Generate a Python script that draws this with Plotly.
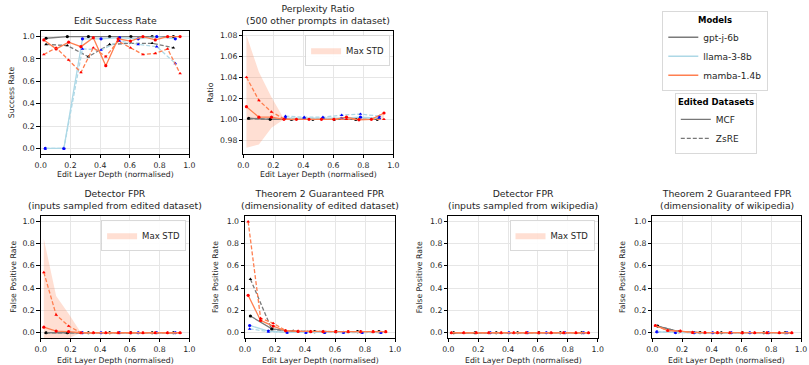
import plotly.graph_objects as go

# ---------------- data ----------------
depth_gptj = [0.036, 0.179, 0.321, 0.464, 0.607, 0.750, 0.893]
depth_llama = [0.031, 0.156, 0.281, 0.406, 0.531, 0.656, 0.781, 0.906]
depth_mamba = [0.021, 0.104, 0.188, 0.271, 0.354, 0.438, 0.521, 0.604, 0.688, 0.771, 0.854, 0.938]

# Edit success rate
succ_gptj_mcf = [0.985, 1.0, 1.0, 1.0, 1.0, 1.0, 1.0]
succ_gptj_zsre = [0.93, 0.92, 0.82, 0.93, 0.94, 0.94, 0.90]
succ_llama_mcf = [0.0, 0.0, 0.98, 0.98, 0.99, 0.98, 1.0, 0.98]
succ_llama_zsre = [0.0, 0.0, 0.89, 0.88, 0.96, 0.93, 0.91, 0.76]
succ_mamba_mcf = [0.97, 0.89, 0.95, 0.91, 0.99, 0.74, 0.98, 0.96, 1.0, 0.97, 1.0, 1.0]
succ_mamba_zsre = [0.84, 0.90, 0.79, 0.68, 0.90, 0.82, 0.96, 0.90, 0.84, 0.85, 0.89, 0.67]

# Perplexity ratio
ppl_gptj_mcf = [1.001, 1.0, 1.0, 1.0, 1.0, 1.0, 1.0]
ppl_gptj_zsre = [1.0005, 1.0, 0.9998, 1.0, 1.0, 0.9998, 1.0]
ppl_llama_mcf = [None, None, 1.001, 1.001, 1.001, 1.001, 1.002, 1.001]
ppl_llama_zsre = [None, None, 1.003, 1.002, 1.002, 1.004, 1.005, 1.003]
ppl_mamba_mcf = [1.012, 1.002, 1.002, 1.0, 1.0, 1.0, 1.0, 1.0, 1.002, 0.9995, 1.0, 1.006]
ppl_mamba_zsre = [1.040, 1.018, 1.007, 1.0005, 1.0, 1.0, 1.0, 1.0, 1.0, 1.0, 1.0, 1.0]
ppl_std_upper = [1.080, 1.045, 1.021, 1.0005, 1.0, 1.0, 1.0, 1.0, 1.002, 1.0, 1.0, 1.006]
ppl_std_lower = [0.973, 0.976, 0.992, 1.0, 1.0, 1.0, 1.0, 1.0, 1.0, 0.9995, 1.0, 1.0]

# Detector FPR (edited dataset)
det_ed_gptj_mcf = [0.0, 0.0, 0.0, 0.0, 0.0, 0.0, 0.0]
det_ed_gptj_zsre = [0.0, 0.0, 0.0, 0.0, 0.0, 0.0, 0.0]
det_ed_llama_mcf = [None, None, 0.0, 0.0, 0.0, 0.0, 0.0, 0.0]
det_ed_llama_zsre = [None, None, 0.0, 0.0, 0.0, 0.0, 0.0, 0.0]
det_ed_mamba_mcf = [0.05, 0.015, 0.01, 0.0, 0.0, 0.0, 0.0, 0.0, 0.0, 0.0, 0.0, 0.0]
det_ed_mamba_zsre = [0.54, 0.16, 0.06, 0.0, 0.0, 0.0, 0.0, 0.0, 0.0, 0.0, 0.0, 0.0]
det_ed_std_upper = [0.84, 0.33, 0.17, 0.0, 0.0, 0.0, 0.0, 0.0, 0.0, 0.0, 0.0, 0.0]
det_ed_std_lower = [-0.24, -0.14, -0.05, 0.0, 0.0, 0.0, 0.0, 0.0, 0.0, 0.0, 0.0, 0.0]

# Theorem 2 guaranteed FPR (edited dataset)
thm_ed_gptj_mcf = [0.15, 0.035, 0.012, 0.01, 0.01, 0.01, 0.01]
thm_ed_gptj_zsre = [0.48, 0.03, 0.015, 0.01, 0.01, 0.01, 0.01]
thm_ed_llama_mcf = [0.065, 0.015, 0.004, 0.003, 0.003, 0.003, 0.003, 0.003]
thm_ed_llama_zsre = [0.035, 0.01, 0.003, 0.002, 0.002, 0.002, 0.002, 0.002]
thm_ed_mamba_mcf = [0.335, 0.11, 0.06, 0.018, 0.012, 0.01, 0.01, 0.01, 0.01, 0.01, 0.01, 0.01]
thm_ed_mamba_zsre = [0.995, 0.13, 0.085, 0.02, 0.015, 0.012, 0.012, 0.01, 0.01, 0.01, 0.01, 0.01]

# Detector FPR (wikipedia)
det_wk_gptj_mcf = [0.0, 0.0, 0.0, 0.0, 0.0, 0.0, 0.0]
det_wk_gptj_zsre = [0.0, 0.0, 0.0, 0.0, 0.0, 0.0, 0.0]
det_wk_llama_mcf = [None, None, 0.0, 0.0, 0.0, 0.0, 0.0, 0.0]
det_wk_llama_zsre = [None, None, 0.0, 0.0, 0.0, 0.0, 0.0, 0.0]
det_wk_mamba_mcf = [0.0, 0.0, 0.0, 0.0, 0.0, 0.0, 0.0, 0.0, 0.0, 0.0, 0.0, 0.0]
det_wk_mamba_zsre = [0.0, 0.0, 0.0, 0.0, 0.0, 0.0, 0.0, 0.0, 0.0, 0.0, 0.0, 0.0]
det_wk_std_upper = [0.0, 0.0, 0.0, 0.0, 0.0, 0.0, 0.0, 0.0, 0.0, 0.0, 0.0, 0.0]
det_wk_std_lower = [0.0, 0.0, 0.0, 0.0, 0.0, 0.0, 0.0, 0.0, 0.0, 0.0, 0.0, 0.0]

# Theorem 2 guaranteed FPR (wikipedia)
thm_wk_gptj_mcf = [0.06, 0.01, 0.002, 0.0, 0.0, 0.0, 0.0]
thm_wk_gptj_zsre = [0.058, 0.01, 0.002, 0.0, 0.0, 0.0, 0.0]
thm_wk_llama_mcf = [0.008, 0.002, 0.0, 0.0, 0.0, 0.0, 0.0, 0.0]
thm_wk_llama_zsre = [0.008, 0.002, 0.0, 0.0, 0.0, 0.0, 0.0, 0.0]
thm_wk_mamba_mcf = [0.065, 0.02, 0.015, 0.003, 0.002, 0.001, 0.0, 0.0, 0.0, 0.0, 0.0, 0.0]
thm_wk_mamba_zsre = [0.062, 0.02, 0.014, 0.003, 0.002, 0.001, 0.0, 0.0, 0.0, 0.0, 0.0, 0.0]

models = ["gpt-j-6b", "llama-3-8b", "mamba-1.4b"]
datasets = ["MCF", "ZsRE"]
unit_ticks = [0.0, 0.2, 0.4, 0.6, 0.8, 1.0]
ppl_ticks = [0.98, 1.00, 1.02, 1.04, 1.06, 1.08]
x_ticks = [0.0, 0.2, 0.4, 0.6, 0.8, 1.0]

# ---------------- styling ----------------
W, H = 809, 365
FONT = "DejaVu Sans"
TXT = "#262626"
line_col = {"gpt-j-6b": "#7a7a7a", "llama-3-8b": "#add8e6", "mamba-1.4b": "#ff7f50"}
mark_col = {"gpt-j-6b": "#000000", "llama-3-8b": "#0000ff", "mamba-1.4b": "#ff0000"}
depths = {"gpt-j-6b": depth_gptj, "llama-3-8b": depth_llama, "mamba-1.4b": depth_mamba}
dash = {"MCF": "solid", "ZsRE": "4px,2px"}
symbol = {"MCF": "circle", "ZsRE": "triangle-up"}
FILL = "rgba(255,127,80,0.25)"


def px_x(p):
    return p / W


def px_y(p):
    return 1 - p / H


panels = [
    dict(title="Edit Success Rate", ylabel="Success Rate", box=(40.7, 189.3, 31, 154),
         yr=[-0.05, 1.05], ticks=unit_ticks, fmt=".1f", ylab_x=11.7,
         series={"gpt-j-6b": (succ_gptj_mcf, succ_gptj_zsre),
                 "llama-3-8b": (succ_llama_mcf, succ_llama_zsre),
                 "mamba-1.4b": (succ_mamba_mcf, succ_mamba_zsre)}, band=None),
    dict(title="Perplexity Ratio<br>(500 other prompts in dataset)", ylabel="Ratio",
         box=(243.3, 393.3, 31, 154), yr=[0.967, 1.084], ticks=ppl_ticks, fmt=".2f", ylab_x=210,
         series={"gpt-j-6b": (ppl_gptj_mcf, ppl_gptj_zsre),
                 "llama-3-8b": (ppl_llama_mcf, ppl_llama_zsre),
                 "mamba-1.4b": (ppl_mamba_mcf, ppl_mamba_zsre)},
         band=(ppl_std_lower, ppl_std_upper)),
    dict(title="Detector FPR<br>(inputs sampled from edited dataset)", ylabel="False Positive Rate",
         box=(40.7, 189.3, 216, 338), yr=[-0.047, 1.045], ticks=unit_ticks, fmt=".1f", ylab_x=12.7,
         series={"gpt-j-6b": (det_ed_gptj_mcf, det_ed_gptj_zsre),
                 "llama-3-8b": (det_ed_llama_mcf, det_ed_llama_zsre),
                 "mamba-1.4b": (det_ed_mamba_mcf, det_ed_mamba_zsre)},
         band=(det_ed_std_lower, det_ed_std_upper)),
    dict(title="Theorem 2 Guaranteed FPR<br>(dimensionality of edited dataset)", ylabel="False Positive Rate",
         box=(245, 395, 216, 338), yr=[-0.047, 1.045], ticks=unit_ticks, fmt=".1f", ylab_x=215,
         series={"gpt-j-6b": (thm_ed_gptj_mcf, thm_ed_gptj_zsre),
                 "llama-3-8b": (thm_ed_llama_mcf, thm_ed_llama_zsre),
                 "mamba-1.4b": (thm_ed_mamba_mcf, thm_ed_mamba_zsre)}, band=None),
    dict(title="Detector FPR<br>(inputs sampled from wikipedia)", ylabel="False Positive Rate",
         box=(448.3, 597.7, 216, 338), yr=[-0.047, 1.045], ticks=unit_ticks, fmt=".1f", ylab_x=419.3,
         series={"gpt-j-6b": (det_wk_gptj_mcf, det_wk_gptj_zsre),
                 "llama-3-8b": (det_wk_llama_mcf, det_wk_llama_zsre),
                 "mamba-1.4b": (det_wk_mamba_mcf, det_wk_mamba_zsre)},
         band=(det_wk_std_lower, det_wk_std_upper)),
    dict(title="Theorem 2 Guaranteed FPR<br>(dimensionality of wikipedia)", ylabel="False Positive Rate",
         box=(652.3, 801, 216, 338), yr=[-0.047, 1.045], ticks=unit_ticks, fmt=".1f", ylab_x=622,
         series={"gpt-j-6b": (thm_wk_gptj_mcf, thm_wk_gptj_zsre),
                 "llama-3-8b": (thm_wk_llama_mcf, thm_wk_llama_zsre),
                 "mamba-1.4b": (thm_wk_mamba_mcf, thm_wk_mamba_zsre)}, band=None),
]

fig = go.Figure()
annotations = []
layout = {}
band_legends = []

for i, p in enumerate(panels, start=1):
    xa = "x" if i == 1 else f"x{i}"
    ya = "y" if i == 1 else f"y{i}"
    x0, x1, top, bottom = p["box"]
    axis_common = dict(showline=True, linecolor="#000000", linewidth=0.8, mirror=True,
                       ticks="outside", ticklen=3.5, tickwidth=0.8, tickcolor="#000000",
                       showgrid=True, gridcolor="#e6e6e6", gridwidth=0.8, zeroline=False,
                       automargin=False,
                       tickfont=dict(family=FONT, size=7.75, color=TXT))
    layout["xaxis" if i == 1 else f"xaxis{i}"] = dict(
        domain=[px_x(x0), px_x(x1)], anchor=ya, range=[0, 1], tickvals=x_ticks,
        tickformat=".1f", **axis_common)
    layout["yaxis" if i == 1 else f"yaxis{i}"] = dict(
        domain=[px_y(bottom), px_y(top)], anchor=xa, range=p["yr"], tickvals=p["ticks"],
        tickformat=p["fmt"], **axis_common)

    if p["band"] is not None:
        lg = f"legend{len(band_legends) + 3}"
        band_legends.append((lg, x1, top))
        lower, upper = p["band"]
        fig.add_trace(go.Scatter(x=depth_mamba, y=lower, mode="lines", line=dict(width=0),
                                 hoverinfo="skip", showlegend=False, xaxis=xa, yaxis=ya))
        fig.add_trace(go.Scatter(x=depth_mamba, y=upper, mode="lines", line=dict(width=0),
                                 fill="tonexty", fillcolor=FILL, name="Max STD",
                                 showlegend=True, legend=lg, xaxis=xa, yaxis=ya))

    for m in models:
        for d, vals in zip(datasets, p["series"][m]):
            fig.add_trace(go.Scatter(
                x=depths[m], y=vals, mode="lines+markers",
                line=dict(color=line_col[m], width=1.3, dash=dash[d]),
                marker=dict(color=mark_col[m], size=3.2, symbol=symbol[d]),
                showlegend=False, xaxis=xa, yaxis=ya, name=f"{m} {d}"))

    cx = px_x((x0 + x1) / 2)
    annotations.append(dict(text=p["title"], x=cx, y=px_y(top), xref="paper", yref="paper",
                            xanchor="center", yanchor="bottom", yshift=3, showarrow=False,
                            font=dict(family=FONT, size=9.3, color=TXT)))
    xl_y = 174.7 if top < 100 else 360.3
    annotations.append(dict(text="Edit Layer Depth (normalised)", x=cx, y=px_y(xl_y),
                            xref="paper", yref="paper", xanchor="center", yanchor="middle",
                            showarrow=False, font=dict(family=FONT, size=7.75, color=TXT)))
    annotations.append(dict(text=p["ylabel"], x=px_x(p["ylab_x"]), y=px_y((top + bottom) / 2),
                            xref="paper", yref="paper", xanchor="center", yanchor="middle",
                            textangle=-90, showarrow=False,
                            font=dict(family=FONT, size=7.75, color=TXT)))

# legend entries for models and datasets
for m in models:
    fig.add_trace(go.Scatter(x=[None], y=[None], mode="lines", name=m,
                             line=dict(color=line_col[m], width=1.5),
                             legend="legend", showlegend=True))
for d in datasets:
    fig.add_trace(go.Scatter(x=[None], y=[None], mode="lines", name=d,
                             line=dict(color="#777777", width=1.2, dash=dash[d]),
                             legend="legend2", showlegend=True))

legend_common = dict(bgcolor="rgba(255,255,255,0.9)", bordercolor="#d0d0d0", borderwidth=0.8,
                     xref="paper", yref="paper", itemwidth=30)
layout["legend"] = dict(title=dict(text="<b>Models</b>", side="top center",
                                   font=dict(family=FONT, size=8.5, color="#000000")),
                        x=px_x(715), y=px_y(11), xanchor="center", yanchor="top",
                        font=dict(family=FONT, size=9, color=TXT), **legend_common)
layout["legend2"] = dict(title=dict(text="<b>Edited Datasets</b>", side="top center",
                                    font=dict(family=FONT, size=8.5, color="#000000")),
                         x=px_x(716), y=px_y(93), xanchor="center", yanchor="top",
                         font=dict(family=FONT, size=9, color=TXT), **legend_common)
for lg, x1, top in band_legends:
    layout[lg] = dict(x=px_x(x1 - 3), y=px_y(top + 4), xanchor="right", yanchor="top",
                      font=dict(family=FONT, size=8.5, color=TXT), **legend_common)

fig.update_layout(width=W, height=H, margin=dict(l=0, r=0, t=0, b=0),
                  plot_bgcolor="white", paper_bgcolor="white",
                  annotations=annotations, **layout)

fig.write_html("out.html", config={"displayModeBar": False},
               post_script="document.body.style.margin='0px';document.body.style.overflow='hidden';")
